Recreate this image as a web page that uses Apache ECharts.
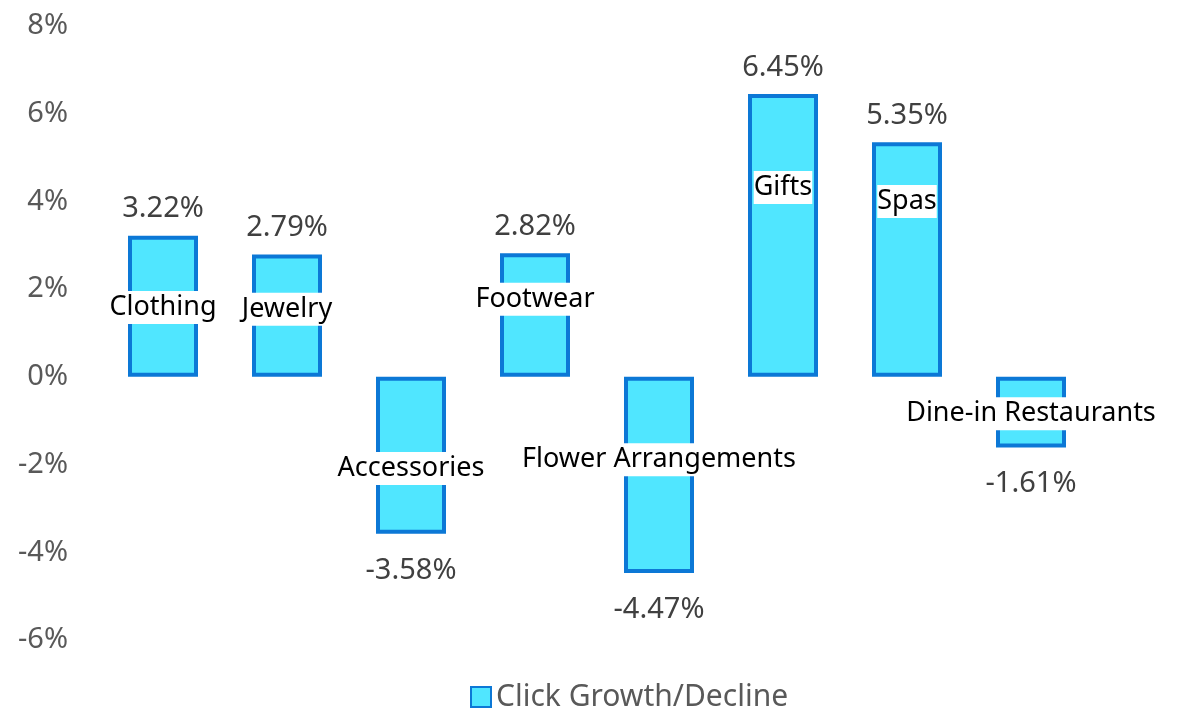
<!DOCTYPE html>
<html>
<head>
<meta charset="utf-8">
<script src="https://cdn.jsdelivr.net/npm/echarts@6/dist/echarts.min.js"></script>
<style>
  html, body { margin: 0; padding: 0; background: #fff; }
  #chart { width: 1201px; height: 717px; }
</style>
</head>
<body>
<div id="chart"></div>
<script>
// chart data
const categories = ["Clothing", "Jewelry", "Accessories", "Footwear", "Flower Arrangements", "Gifts", "Spas", "Dine-in Restaurants"];
const growth = [3.22, 2.79, -3.58, 2.82, -4.47, 6.45, 5.35, -1.61];
// where each category name sits along the value axis
const namePos = [1.58, 1.54, -2.09, 1.77, -1.89, 4.32, 4.0, -0.84];
const seriesName = "Click Growth/Decline";

const font = "'Segoe UI', 'Noto Sans', sans-serif";

const chart = echarts.init(document.getElementById("chart"));

chart.setOption({
  animation: false,
  grid: {
    left: 101,
    right: 108,
    top: 26,
    bottom: 77,
  },
  legend: {
    data: [{ name: seriesName, icon: "rect" }],
    left: 465,
    bottom: 0,
    itemWidth: 20,
    itemHeight: 20,
    itemGap: 8,
    textStyle: {
      fontFamily: font,
      fontSize: 30,
      color: "#595959",
    },
  },
  xAxis: {
    type: "category",
    data: categories,
    axisLine: { show: false },
    axisTick: { show: false },
    axisLabel: { show: false },
  },
  yAxis: {
    type: "value",
    min: -6,
    max: 8,
    interval: 2,
    splitLine: { show: false },
    axisLine: { show: false },
    axisTick: { show: false },
    axisLabel: {
      margin: 33,
      formatter: "{value}%",
      fontFamily: font,
      fontSize: 29,
      color: "#595959",
    },
  },
  series: [
    {
      name: seriesName,
      type: "bar",
      barWidth: 70,
      data: growth.map(function (v) {
        return v < 0 ? { value: v, label: { position: "bottom", distance: 22 } } : v;
      }),
      itemStyle: {
        color: "#50E6FF",
        borderColor: "#0C78D6",
        borderWidth: 4,
      },
      label: {
        show: true,
        position: "top",
        distance: 12,
        formatter: function (p) {
          return p.value.toFixed(2) + "%";
        },
        fontFamily: font,
        fontSize: 29,
        color: "#404040",
      },
    },
    {
      // category names drawn inside bars
      type: "scatter",
      symbolSize: 0,
      silent: true,
      z: 5,
      itemStyle: { opacity: 1 },
      data: namePos.map(function (v, i) {
        return [categories[i], v];
      }),
      label: {
        show: true,
        position: "inside",
        formatter: function (p) {
          return categories[p.dataIndex];
        },
        fontFamily: font,
        fontSize: 27,
        color: "#000",
        opacity: 1,
        backgroundColor: "#fff",
        padding: [3, 0],
      },
    },
  ],
});
</script>
</body>
</html>
